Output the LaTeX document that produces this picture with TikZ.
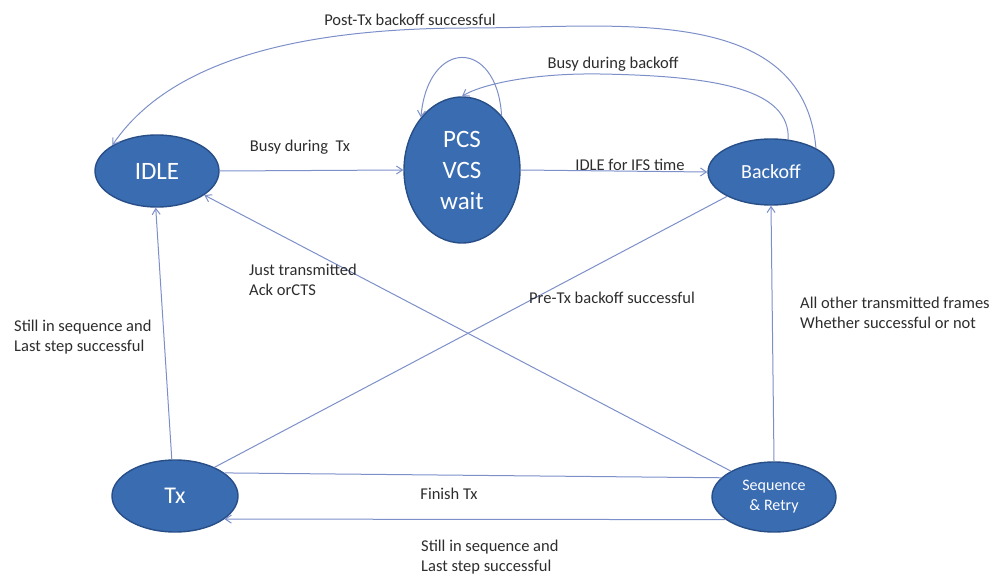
\documentclass[tikz,border=0pt]{standalone}
\usepackage{fontspec}
\setmainfont{Carlito}
\usetikzlibrary{shapes.geometric,arrows.meta}
\definecolor{statefill}{RGB}{58,108,178}
\definecolor{stateedge}{RGB}{40,78,135}
\definecolor{wire}{RGB}{125,143,200}
\definecolor{labeltext}{RGB}{45,45,45}
\begin{document}
\begin{tikzpicture}[x=1pt,y=-1pt,
  state/.style={ellipse,fill=statefill,draw=stateedge,line width=1.4pt,
    text=white,inner sep=0pt,align=center},
  wireline/.style={draw=wire,line width=1pt},
  arr/.style={wireline,-{Straight Barb[length=6pt,width=8pt]}},
  lbl/.style={text=labeltext,font=\fontsize{16.5}{20}\selectfont,inner sep=0pt},
  lbll/.style={lbl,align=left}]
\useasboundingbox (0,0) rectangle (995,577);

% states
\node[state,minimum width=124pt,minimum height=72pt,font=\fontsize{25}{30}\selectfont] (idle) at (157,171) {IDLE};
\node[state,minimum width=116pt,minimum height=146pt,font=\fontsize{25}{31}\selectfont] (pcs) at (462,170) {PCS\\VCS\\wait};
\node[state,minimum width=126pt,minimum height=66pt,font=\fontsize{20}{24}\selectfont] (backoff) at (771,172) {Backoff};
\node[state,minimum width=126pt,minimum height=72pt,font=\fontsize{24}{28}\selectfont] (tx) at (175,496) {Tx};
\node[state,minimum width=124pt,minimum height=70pt,font=\fontsize{16}{20}\selectfont] (seq) at (774,497) {Sequence\\\& Retry};

% transitions
\draw[arr] (idle.east) -- (pcs.west);
\draw[arr] (pcs.east) -- (backoff.west);
\draw[arr] (pcs.54) .. controls (497,38) and (428,38) .. (pcs.128);
\draw[arr] (backoff.62) .. controls (790,90) and (720,76) .. (600,74)
  .. controls (530,73) and (480,85) .. (pcs.north);
\draw[arr] (backoff.28) .. controls (803,1) and (612,28) .. (470,28)
  .. controls (300,28) and (170,60) .. (idle.150);
\draw[arr] (tx.95) -- (idle.268);
\draw[arr] (seq.149) -- (idle.-27);
\draw[wireline] (tx.36) -- (backoff.209);
\draw[arr] (seq.north) -- (backoff.south);
\draw[wireline] (tx.25) -- (seq.160);
\draw[arr] (seq.205) -- (tx.-25);

% labels
\node[lbl] (l1) at (410,20) {Post-Tx backoff successful};
\node[lbl] (l2) at (613,64) {Busy during backoff};
\node[lbl] (l3) at (300,147) {Busy during\ \ Tx};
\node[lbl] (l4) at (630,165) {IDLE for IFS time};
\node[lbll,anchor=west] (l5) at (249,280) {Just transmitted\\Ack orCTS};
\node[lbl] (l6) at (612,298) {Pre-Tx backoff successful};
\node[lbll,anchor=west] (l7) at (14,337) {Still in sequence and\\Last step successful};
\node[lbll,anchor=west] (l8) at (800,313) {All other transmitted frames\\Whether successful or not};
\node[lbl] (l9) at (449,494) {Finish Tx};
\node[lbll,anchor=west] (l10) at (421,557) {Still in sequence and\\Last step successful};
\end{tikzpicture}
\end{document}
